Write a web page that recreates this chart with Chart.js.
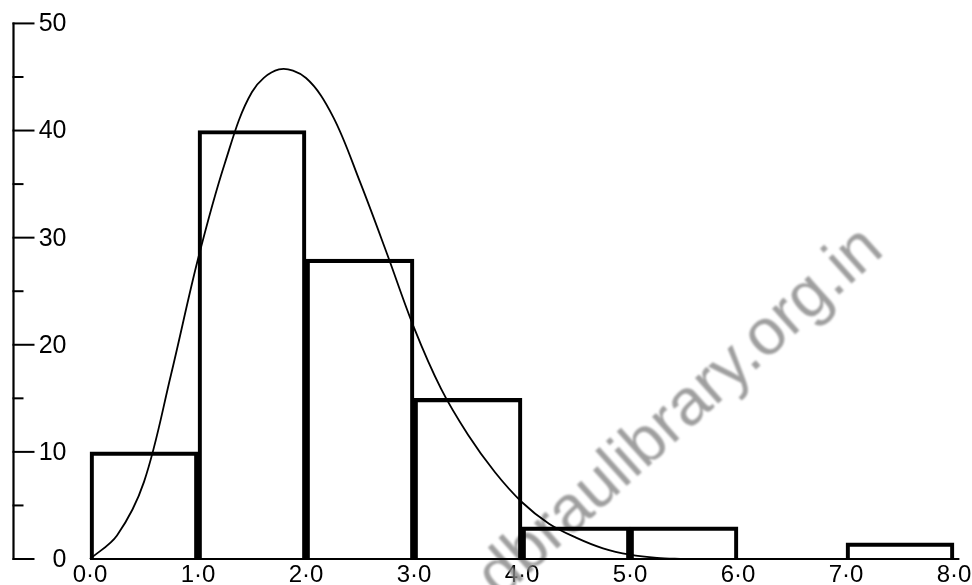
<!DOCTYPE html>
<html><head><meta charset="utf-8">
<script src="https://cdn.jsdelivr.net/npm/chart.js@4/dist/chart.umd.min.js"></script>
<style>html,body{margin:0;padding:0;background:#fff}#wrap{width:972px;height:585px;position:relative}</style>
</head><body><div id="wrap"><canvas id="c"></canvas></div>
<script>
// ---- data ----
const binCentres = [0.5, 1.5, 2.5, 3.5, 4.5, 5.5, 6.5, 7.5];
const binCounts  = [10, 40, 28, 15, 3, 3, 0, 1.5];
const curveX = [0, 0.25, 0.5, 0.75, 1.0, 1.25, 1.5, 1.75, 2.0, 2.25, 2.5, 2.75, 3.0, 3.25, 3.5, 3.75, 4.0, 4.25, 4.5, 4.75, 5.0, 5.25, 5.5];
const curveY = [0, 2.2, 7.2, 17.2, 28.0, 37.0, 43.6, 45.7, 44.9, 41.3, 35.2, 28.5, 21.6, 15.9, 11.6, 8.1, 5.3, 3.3, 2.0, 1.0, 0.4, 0.1, 0];
const baselineX = [0, 8.05];
const baselineY = [0, 0];
const xTickValues = [0, 1, 2, 3, 4, 5, 6, 7, 8];
const xTickLabels = ['0·0', '1·0', '2·0', '3·0', '4·0', '5·0', '6·0', '7·0', '8·0'];
const yMajorTicks = [0, 10, 20, 30, 40, 50];
const yMajorLabels = ['0', '10', '20', '30', '40', '50'];
const yMinorTicks = [5, 15, 25, 35, 45];
const watermarkText = 'dbraulibrary.org.in';

// ---- layout constants ----
const X_MIN = -0.8333, X_MAX = 8.1667, Y_MAX = 52;
const Y_AXIS_AT = -0.713;

const yAxisPlugin = {
  id: 'ownYAxis',
  afterDatasetsDraw(chart) {
    const {ctx, scales: {x, y}} = chart;
    const ax = Math.round(x.getPixelForValue(Y_AXIS_AT)) + 0.5;
    ctx.save();
    ctx.strokeStyle = '#000';
    ctx.lineWidth = 2.2;
    ctx.beginPath();
    ctx.moveTo(ax, y.getPixelForValue(50) - 1);
    ctx.lineTo(ax, y.getPixelForValue(0) + 1);
    ctx.stroke();
    ctx.lineWidth = 2;
    yMajorTicks.forEach(v => {
      const py = y.getPixelForValue(v);
      ctx.beginPath(); ctx.moveTo(ax - 1, py); ctx.lineTo(ax + 21, py); ctx.stroke();
    });
    yMinorTicks.forEach(v => {
      const py = y.getPixelForValue(v);
      ctx.beginPath(); ctx.moveTo(ax - 1, py); ctx.lineTo(ax + 10, py); ctx.stroke();
    });
    ctx.fillStyle = '#000';
    ctx.font = '25px "Liberation Sans", Arial, sans-serif';
    ctx.textAlign = 'right';
    ctx.textBaseline = 'middle';
    yMajorTicks.forEach((v, i) => {
      ctx.fillText(yMajorLabels[i], ax + 53, y.getPixelForValue(v) + 1);
    });
    ctx.restore();
  }
};

const watermarkPlugin = {
  id: 'watermark',
  beforeDatasetsDraw(chart) {
    const {ctx} = chart;
    ctx.save();
    ctx.translate(500, 600);
    ctx.rotate(-42 * Math.PI / 180);
    ctx.font = '65px "Liberation Sans", Arial, sans-serif';
    ctx.fillStyle = 'rgba(135,135,135,0.8)';
    ctx.filter = 'blur(0.8px)';
    ctx.textAlign = 'left';
    ctx.textBaseline = 'alphabetic';
    ctx.fillText(watermarkText, 0, 0);
    ctx.restore();
  }
};

new Chart(document.getElementById('c'), {
  type: 'bar',
  data: {
    datasets: [
      {
        type: 'line',
        data: curveX.map((v, i) => ({x: v, y: curveY[i]})),
        borderColor: '#000', borderWidth: 1.8, pointRadius: 0,
        tension: 0.35, fill: false, clip: false, order: 1
      },
      {
        type: 'line',
        data: baselineX.map((v, i) => ({x: v, y: baselineY[i]})),
        borderColor: '#000', borderWidth: 2, pointRadius: 0, fill: false, clip: false, order: 2
      },
      {
        type: 'bar',
        data: binCentres.map((v, i) => ({x: v, y: binCounts[i]})),
        backgroundColor: 'rgba(0,0,0,0)', borderColor: '#000', borderWidth: 3.5,
        borderSkipped: 'start', barPercentage: 1, categoryPercentage: 1, clip: false, order: 3
      }
    ]
  },
  options: {
    responsive: true, maintainAspectRatio: false, animation: false,
    layout: {padding: {top: 2, left: 0, right: 0, bottom: 0}},
    plugins: {legend: {display: false}, tooltip: {enabled: false}},
    scales: {
      x: {
        type: 'linear', min: X_MIN, max: X_MAX, offset: false,
        grid: {display: false, drawTicks: false}, border: {display: false},
        afterBuildTicks: axis => { axis.ticks = xTickValues.map(v => ({value: v})); },
        afterFit: axis => { axis.height = 26; axis.paddingLeft = 0; axis.paddingRight = 0; },
        ticks: {
          autoSkip: false, maxRotation: 0, padding: 4,
          color: '#000', font: {family: '"Liberation Sans", Arial, sans-serif', size: 24, lineHeight: 1},
          callback: (v, i) => xTickLabels[i]
        }
      },
      y: {
        display: false, min: 0, max: Y_MAX
      }
    }
  },
  plugins: [watermarkPlugin, yAxisPlugin]
});
</script></body></html>
